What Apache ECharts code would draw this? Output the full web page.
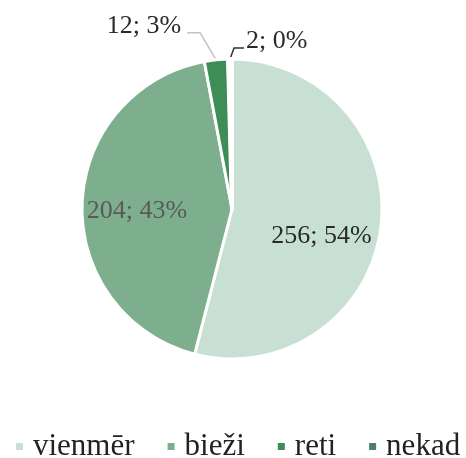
<!DOCTYPE html>
<html>
<head>
<meta charset="utf-8">
<script src="https://cdn.jsdelivr.net/npm/echarts@6/dist/echarts.min.js"></script>
<style>
html,body{margin:0;padding:0;background:#fff;}
#c{width:466px;height:458px;}
</style>
</head>
<body>
<div id="c"></div>
<script>
const categories = ['vienmēr', 'bieži', 'reti', 'nekad'];
const counts = [256, 204, 12, 2];
const percents = [54, 43, 3, 0];
const colors = ['#c8e0d3', '#7daf8e', '#3e8d57', '#4f7d63'];

const SERIF = '"Liberation Serif", "DejaVu Serif", serif';
const total = counts.reduce((a, b) => a + b, 0);
const CX = 232, CY = 209, R = 150, START = 90;

// styling for each slice label (not data)
const labelStyle = [
  { position: 'inside', color: '#2a2a2a', shift: [12, 17] },
  { position: 'inside', color: '#5a5a5a', shift: [-17, 5] },
  { position: 'outside', color: '#2a2a2a', line: '#c4c4c4', seg: [[-16, -27], [-13, 0]], side: 'right' },
  { position: 'outside', color: '#2a2a2a', line: '#333333', seg: [[4, -11], [10, 0]], side: 'left' }
];
const borderWidths = [3, 3, 3, 4];

// edge point at mid-angle of a slice, derived from the values
function edgePoint(i) {
  let cum = 0;
  for (let k = 0; k < i; k++) cum += counts[k];
  const mid = (cum + counts[i] / 2) / total * 360;
  const a = (START - mid) * Math.PI / 180;
  return [CX + R * Math.cos(a), CY - R * Math.sin(a)];
}

const data = categories.map((name, i) => {
  const ls = labelStyle[i];
  return {
    name: name,
    value: counts[i],
    itemStyle: { color: colors[i], borderWidth: borderWidths[i] },
    label: { position: ls.position, color: ls.color },
    labelLine: ls.position === 'outside'
      ? { show: true, lineStyle: { color: ls.line, width: 1.5 } }
      : { show: false }
  };
});

const chart = echarts.init(document.getElementById('c'), null, { renderer: 'canvas' });
chart.setOption({
  animation: false,
  backgroundColor: '#ffffff',
  legend: {
    data: categories,
    left: 9,
    top: 426,
    icon: 'rect',
    itemWidth: 9,
    itemHeight: 9,
    itemGap: 31,
    textStyle: { fontFamily: SERIF, fontSize: 31, color: '#222', padding: [0, 0, 0, 4] }
  },
  series: [{
    type: 'pie',
    center: [CX, CY],
    radius: R,
    startAngle: START,
    clockwise: true,
    avoidLabelOverlap: false,
    itemStyle: { borderColor: '#ffffff', borderWidth: 3 },
    label: {
      fontFamily: SERIF,
      fontSize: 26,
      formatter: p => counts[p.dataIndex] + '; ' + percents[p.dataIndex] + '%'
    },
    labelLayout: function (p) {
      const ls = labelStyle[p.dataIndex];
      if (ls.position === 'inside') {
        return { dx: ls.shift[0], dy: ls.shift[1] };
      }
      const p0 = edgePoint(p.dataIndex);
      const p1 = [p0[0] + ls.seg[0][0], p0[1] + ls.seg[0][1]];
      const p2 = [p1[0] + ls.seg[1][0], p1[1] + ls.seg[1][1]];
      return {
        x: ls.side === 'right' ? p2[0] - 6 : p2[0] + 2,
        y: p2[1] - 7,
        align: ls.side,
        verticalAlign: 'middle',
        labelLinePoints: [p0, p1, p2]
      };
    },
    data: data
  }]
});
</script>
</body>
</html>
